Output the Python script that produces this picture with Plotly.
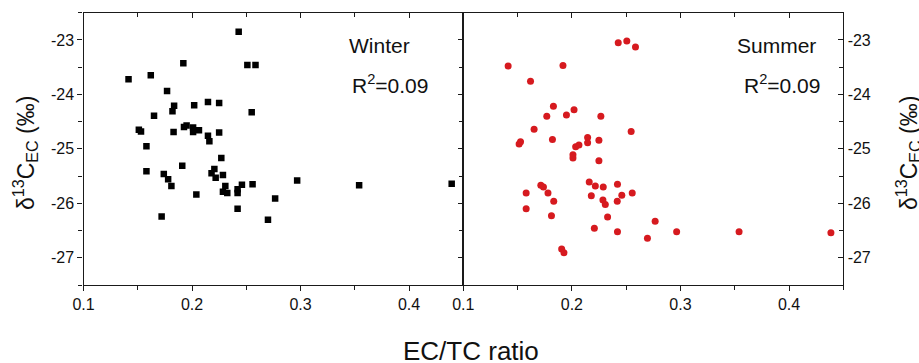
import plotly.graph_objects as go

# ---------------- data ----------------
winter_ratio = [0.243, 0.192, 0.251, 0.2585, 0.1415, 0.162, 0.177, 0.1835, 0.182, 0.202,
                0.2147, 0.225, 0.255, 0.165, 0.151, 0.153, 0.183, 0.1926, 0.195, 0.201,
                0.201, 0.2064, 0.2147, 0.216, 0.225, 0.158, 0.227, 0.158, 0.174, 0.178,
                0.181, 0.191, 0.204, 0.172, 0.218, 0.2206, 0.2218, 0.2285, 0.2307, 0.2285,
                0.2325, 0.242, 0.242, 0.246, 0.2558, 0.242, 0.270, 0.2766, 0.2969, 0.354,
                0.4393]
winter_d13c = [-22.85, -23.43, -23.46, -23.46, -23.72, -23.65, -23.94, -24.21, -24.31, -24.20,
               -24.14, -24.16, -24.33, -24.39, -24.65, -24.68, -24.69, -24.60, -24.57, -24.61,
               -24.69, -24.66, -24.76, -24.86, -24.70, -24.95, -25.17, -25.41, -25.46, -25.56,
               -25.68, -25.31, -25.84, -26.24, -25.45, -25.37, -25.53, -25.48, -25.68, -25.79,
               -25.81, -25.74, -25.81, -25.66, -25.65, -26.10, -26.30, -25.91, -25.58, -25.67,
               -25.64]

summer_ratio = [0.2427, 0.2506, 0.2586, 0.1413, 0.1918, 0.1619, 0.183, 0.1769, 0.195, 0.202,
                0.2267, 0.2546, 0.1652, 0.1514, 0.1527, 0.1821, 0.2145, 0.2145, 0.2249, 0.2035,
                0.2065, 0.201, 0.201, 0.2249, 0.1714, 0.1738, 0.1579, 0.178, 0.1833, 0.1579,
                0.1812, 0.1906, 0.1927, 0.216, 0.2216, 0.2289, 0.242, 0.2179, 0.2286, 0.2308,
                0.2418, 0.246, 0.2556, 0.2329, 0.2207, 0.242, 0.2696, 0.2767, 0.2965, 0.354,
                0.4386]
summer_d13c = [-23.05, -23.02, -23.13, -23.48, -23.47, -23.76, -24.22, -24.40, -24.38, -24.28,
               -24.40, -24.68, -24.64, -24.91, -24.87, -24.83, -24.79, -24.89, -24.84, -24.96,
               -24.93, -25.11, -25.17, -25.22, -25.67, -25.70, -25.81, -25.81, -25.96, -26.10,
               -26.23, -26.84, -26.91, -25.61, -25.68, -25.70, -25.65, -25.86, -25.94, -26.02,
               -25.96, -25.85, -25.81, -26.25, -26.46, -26.52, -26.64, -26.33, -26.52, -26.52,
               -26.54]

x_tick_vals = [0.1, 0.2, 0.3, 0.4]
x_tick_text = ["0.1", "0.2", "0.3", "0.4"]
y_tick_vals = [-27, -26, -25, -24, -23]
y_tick_text = ["-27", "-26", "-25", "-24", "-23"]

season_labels = ["Winter", "Summer"]
r2_labels = ["R<sup>2</sup>=0.09", "R<sup>2</sup>=0.09"]
y_title = "δ<sup>13</sup>C<sub>EC</sub> (‰)"
x_title = "EC/TC ratio"

# ---------------- layout helpers ----------------
W, H = 919, 363
FONT = "Liberation Sans, Arial, sans-serif"
X_RANGE = [0.1, 0.45]
Y_RANGE = [-27.5, -22.5]

def px(x):
    return x / W

def py(y):
    return 1 - y / H

left_dom = [px(83.5), px(463.3)]
right_dom = [px(463.3), px(843.3)]
y_dom = [py(285.0), py(12.7)]

LINE = dict(showline=True, linecolor="#1a1a1a", linewidth=1.3, showgrid=False, zeroline=False)
TICKF = dict(family=FONT, size=16, color="#111")

def xaxis_main(domain, anchor):
    return dict(domain=domain, anchor=anchor, range=X_RANGE, tickmode="array",
                tickvals=x_tick_vals, ticktext=x_tick_text, ticks="outside", ticklen=5,
                tickwidth=1.2, tickcolor="#1a1a1a", tickfont=TICKF,
                minor=dict(dtick=0.05, tick0=0.1, ticks="outside", ticklen=4,
                           tickwidth=1.2, tickcolor="#1a1a1a"),
                **LINE)

def xaxis_top(domain, overlay, anchor):
    return dict(domain=domain, overlaying=overlay, anchor=anchor, side="top",
                range=X_RANGE, tickmode="array", tickvals=x_tick_vals,
                ticks="inside", ticklen=5, tickwidth=1.2, tickcolor="#1a1a1a",
                showticklabels=False,
                minor=dict(dtick=0.05, tick0=0.1, ticks="inside", ticklen=4,
                           tickwidth=1.2, tickcolor="#1a1a1a"),
                **LINE)

def yaxis_def(anchor, side, ticks, labels, overlay=None):
    d = dict(anchor=anchor, side=side, range=Y_RANGE, tickmode="array",
             tickvals=y_tick_vals, ticktext=y_tick_text, ticks=ticks, ticklen=5,
             tickwidth=1.2, tickcolor="#1a1a1a", tickfont=TICKF,
             showticklabels=labels,
             minor=dict(dtick=0.5, tick0=-27.5, ticks=ticks, ticklen=4,
                        tickwidth=1.2, tickcolor="#1a1a1a"),
             **LINE)
    if overlay:
        d["overlaying"] = overlay
    else:
        d["domain"] = y_dom
    return d

fig = go.Figure()

fig.add_trace(go.Scatter(x=winter_ratio, y=winter_d13c, mode="markers",
                         marker=dict(symbol="square", size=6.5, color="black"),
                         xaxis="x", yaxis="y", showlegend=False))
fig.add_trace(go.Scatter(x=summer_ratio, y=summer_d13c, mode="markers",
                         marker=dict(symbol="circle", size=7, color="#d61a1f"),
                         xaxis="x2", yaxis="y2", showlegend=False))
# empty traces so overlay (frame) axes are drawn
for xa, ya in [("x3", "y"), ("x", "y3"), ("x4", "y2"), ("x2", "y4")]:
    fig.add_trace(go.Scatter(x=[], y=[], xaxis=xa, yaxis=ya, showlegend=False,
                             hoverinfo="skip"))

fig.update_layout(
    width=W, height=H, autosize=False,
    margin=dict(l=0, r=0, t=0, b=0, pad=0, autoexpand=False),
    paper_bgcolor="white", plot_bgcolor="white",
    font=dict(family=FONT, color="#111"),
    xaxis=xaxis_main(left_dom, "y"),
    xaxis2=xaxis_main(right_dom, "y2"),
    xaxis3=xaxis_top(left_dom, "x", "y"),
    xaxis4=xaxis_top(right_dom, "x2", "y2"),
    yaxis=yaxis_def("x", "left", "outside", True),
    yaxis3=yaxis_def("x", "right", "inside", False, overlay="y"),
    yaxis2=yaxis_def("x2", "right", "inside", True),
    yaxis4=yaxis_def("x2", "left", "", False, overlay="y2"),
)

ann = []
for lbl, xx in zip(season_labels, [347, 735]):
    ann.append(dict(text=lbl, x=px(xx), y=py(45), xref="paper", yref="paper",
                    xanchor="left", yanchor="middle", showarrow=False,
                    font=dict(family=FONT, size=21, color="#111")))
for lbl, xx in zip(r2_labels, [350, 742]):
    ann.append(dict(text=lbl, x=px(xx), y=py(84), xref="paper", yref="paper",
                    xanchor="left", yanchor="middle", showarrow=False,
                    font=dict(family=FONT, size=21, color="#111")))
for xx in [25, 908]:
    ann.append(dict(text=y_title, x=px(xx), y=py(153), xref="paper", yref="paper",
                    xanchor="center", yanchor="middle", textangle=-90, showarrow=False,
                    font=dict(family=FONT, size=23, color="#111")))
ann.append(dict(text=x_title, x=px(471), y=py(351), xref="paper", yref="paper",
                xanchor="center", yanchor="middle", showarrow=False,
                font=dict(family=FONT, size=26, color="#111")))
fig.update_layout(annotations=ann)

fig.write_html("out.html", config={"displayModeBar": False},
               post_script="document.body.style.margin='0';document.body.style.overflow='hidden';")
